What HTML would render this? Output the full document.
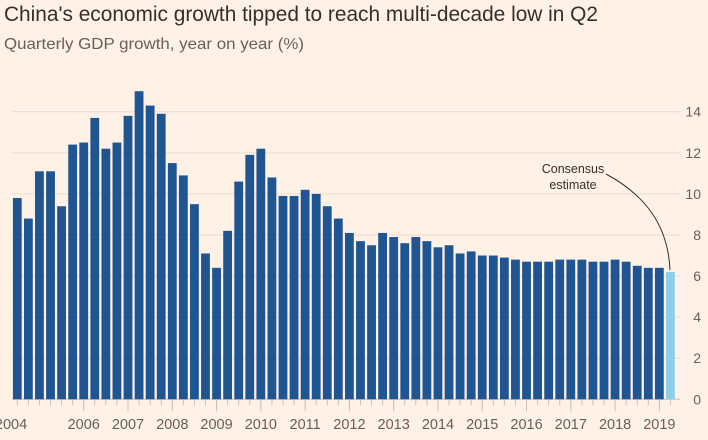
<!DOCTYPE html>
<html><head><meta charset="utf-8"><style>
body{margin:0;background:#fff1e5;}
svg{display:block;font-family:"Liberation Sans",sans-serif;}
</style></head><body>
<svg id="chart" width="708" height="440">
<rect width="708" height="440" fill="#fff1e5"/>
<text x="4" y="21" font-size="21" fill="#33302e" textLength="594" lengthAdjust="spacingAndGlyphs">China's economic growth tipped to reach multi-decade low in Q2</text>
<text x="4" y="49" font-size="16" fill="#66605c" textLength="300" lengthAdjust="spacingAndGlyphs">Quarterly GDP growth, year on year (%)</text>
<g id="grid"></g><g id="bars"></g><g id="xaxis"></g>
<text x="573" y="173" font-size="12.5" fill="#33302e" text-anchor="middle">Consensus</text>
<text x="573" y="189" font-size="12.5" fill="#33302e" text-anchor="middle">estimate</text>
<path d="M606,174 C645,195 668,225 670,270" fill="none" stroke="#33302e" stroke-width="1"/>
</svg>
<script>
const values=[9.8,8.8,11.1,11.1,9.4,12.4,12.5,13.7,12.2,12.5,13.8,15.0,14.3,13.9,11.5,10.9,9.5,7.1,6.4,8.2,10.6,11.9,12.2,10.8,9.9,9.9,10.2,10.0,9.4,8.8,8.1,7.7,7.5,8.1,7.9,7.6,7.9,7.7,7.4,7.5,7.1,7.2,7.0,7.0,6.9,6.8,6.7,6.7,6.7,6.8,6.8,6.8,6.7,6.7,6.8,6.7,6.5,6.4,6.4,6.2];
const estimateIndex=59;
const yTicks=[0,2,4,6,8,10,12,14];
const yearLabels=["2004","2006","2007","2008","2009","2010","2011","2012","2013","2014","2015","2016","2017","2018","2019"];
const yearIndex=[-2,6,10,14,18,22,26,30,34,38,42,46,50,54,58];
const NS="http://www.w3.org/2000/svg";
const x0=17.3,pitch=11.07,bw=8.8,base=399.3,unit=20.54;
const xs=i=>x0+i*pitch, ys=v=>base-v*unit;
function mk(t,a,p){const e=document.createElementNS(NS,t);for(const k in a)e.setAttribute(k,a[k]);p.appendChild(e);return e;}
const grid=document.getElementById('grid'),bars=document.getElementById('bars'),xa=document.getElementById('xaxis');
yTicks.forEach(t=>{
 if(t>0){const l=mk('line',{x1:12,x2:680,y1:ys(t),y2:ys(t),stroke:'#eadccf','stroke-width':1},grid);
 
 }
 const tx=mk('text',{x:701,y:ys(t)+5,'font-size':14,fill:'#66605c','text-anchor':'end'},grid);
 tx.textContent=t;
 
 
});
const bl=mk('line',{x1:12,x2:680,y1:base,y2:base,stroke:'#ccc1b7'},grid);


values.forEach((v,i)=>{
 const r=mk('rect',{x:xs(i)-bw/2,y:ys(v),width:bw,height:v*unit,fill:i===estimateIndex?'#8ecfe8':'#1f5591'},bars);
 
 
 const tk=mk('line',{x1:xs(i),x2:xs(i),y1:base,y2:base+6,stroke:'#ccc1b7'},xa);
 
 
});
yearLabels.forEach((s,j)=>{
 const i=yearIndex[j];
 if(i>=0){const tk=mk('line',{x1:xs(i),x2:xs(i),y1:base,y2:base+12,stroke:'#ccc1b7'},xa);
 
 }
 const t=mk('text',{x:i<0?11:xs(i),y:429,'font-size':14.5,fill:'#66605c','text-anchor':'middle'},xa);
 t.textContent=s;
 
 
});
</script>
</body></html>
